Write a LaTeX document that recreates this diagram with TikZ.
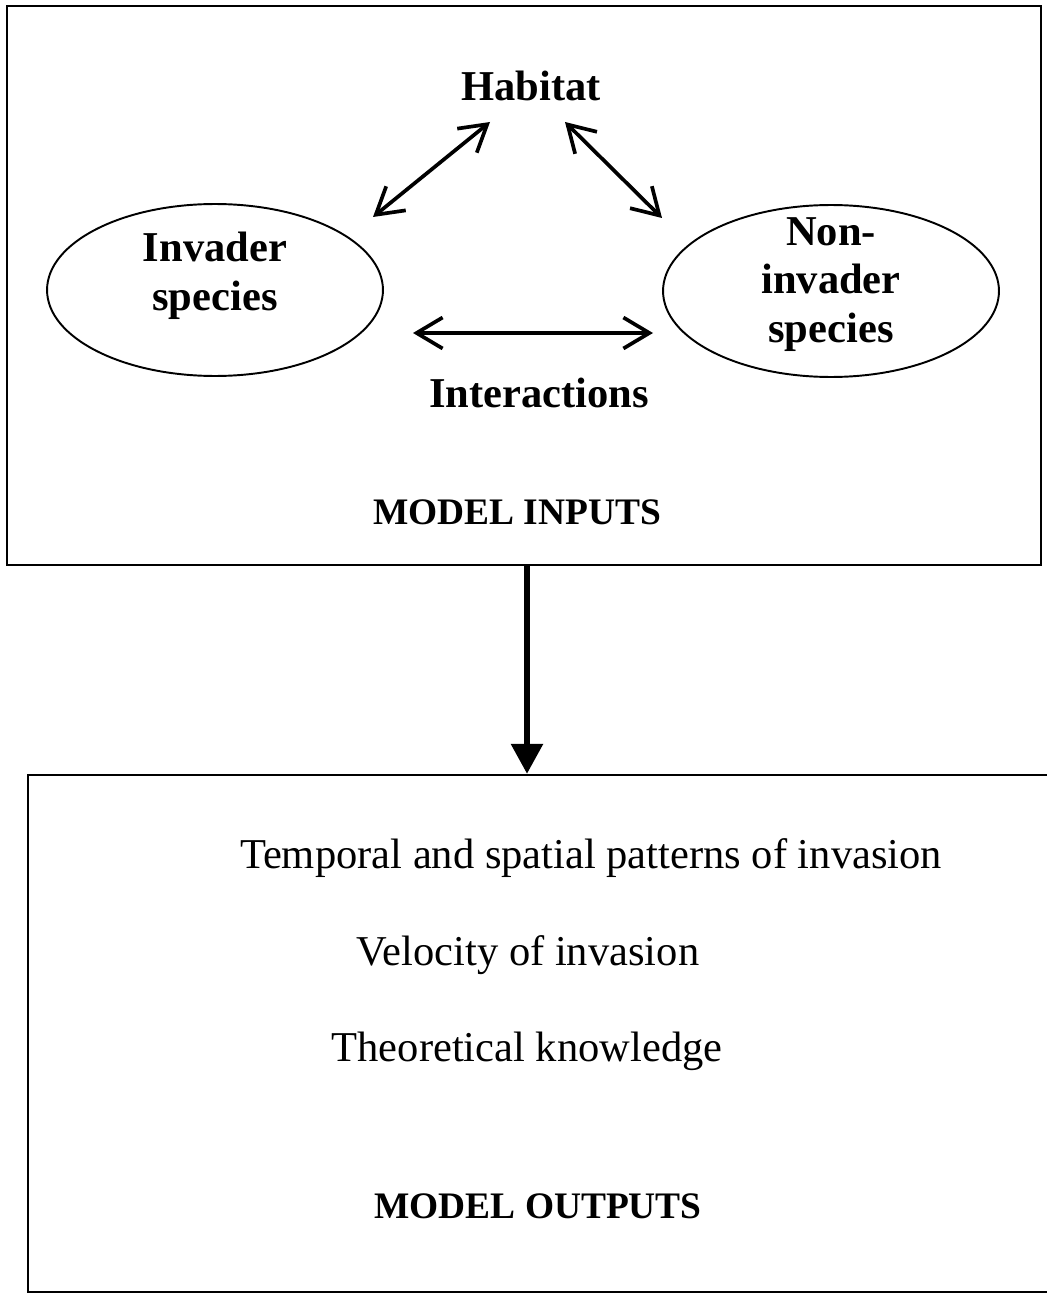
\documentclass[tikz,border=0pt]{standalone}
\usepackage{fontspec}
\setmainfont{Liberation Serif}
\usetikzlibrary{shapes.geometric,arrows.meta}

\begin{document}
\begin{tikzpicture}[x=0.02cm, y=-0.02cm,
    box/.style={draw, line width=1.4pt, inner sep=0pt},
    oval/.style={draw, ellipse, line width=1.1pt, inner sep=0pt,
                 minimum width=6.72cm, minimum height=3.44cm},
    head/.style={font=\fontsize{24.2}{27.6}\selectfont\bfseries,
                 align=center, anchor=base, inner sep=0pt},
    title/.style={font=\fontsize{21.3}{24}\selectfont\bfseries,
                  anchor=base, inner sep=0pt},
    item/.style={font=\fontsize{24.2}{27}\selectfont, anchor=base, inner sep=0pt},
    link/.style={{Straight Barb[length=0.52cm,width=0.62cm]}-{Straight Barb[length=0.52cm,width=0.62cm]},
                 line width=2.1pt},
    flow/.style={-{Triangle[length=0.6cm,width=0.62cm]}, line width=3.4pt}]

  \useasboundingbox (0,0) rectangle (1046,1294);

  % the two boxes
  \node[box, minimum width=20.68cm, minimum height=11.18cm] (inputs) at (524,285.5) {};
  \node[box, minimum width=20.68cm, minimum height=10.34cm] (outputs) at (545,1033.5) {};

  % model inputs
  \node[head] (habitat) at (531,101) {Habitat};
  \node[oval] (invader) at (215,290) {};
  \node[oval] (noninvader) at (831,291) {};
  \node[head] (invtext) at (215,310) {Invader\\species};
  \node[head] (nontext) at (831,342) {Non-\\invader\\species};
  \node[head] (interact) at (539,407) {Interactions};
  \node[title] (intitle) at (517,524) {MODEL INPUTS};

  % ends of the two-way arrows
  \coordinate (habL) at (490,122);
  \coordinate (invH) at (373,217);
  \coordinate (habR) at (565,122);
  \coordinate (nonH) at (662,218);
  \coordinate (invN) at (413,333);
  \coordinate (nonI) at (653,333);

  \draw[link] (invH) -- (habL);
  \draw[link] (habR) -- (nonH);
  \draw[link] (invN) -- (nonI);

  % inputs feed outputs
  \draw[flow] ([xshift=0.06cm]inputs.south) -- ([xshift=0.06cm]inputs.south |- outputs.north);

  % model outputs
  \node[item] (patterns) at (591,868) {Temporal and spatial patterns of invasion};
  \node[item] (velocity) at (528,965) {Velocity of invasion};
  \node[item] (theory) at (527,1061) {Theoretical knowledge};
  \node[title] (outtitle) at (538,1218) {MODEL OUTPUTS};
\end{tikzpicture}
\end{document}
